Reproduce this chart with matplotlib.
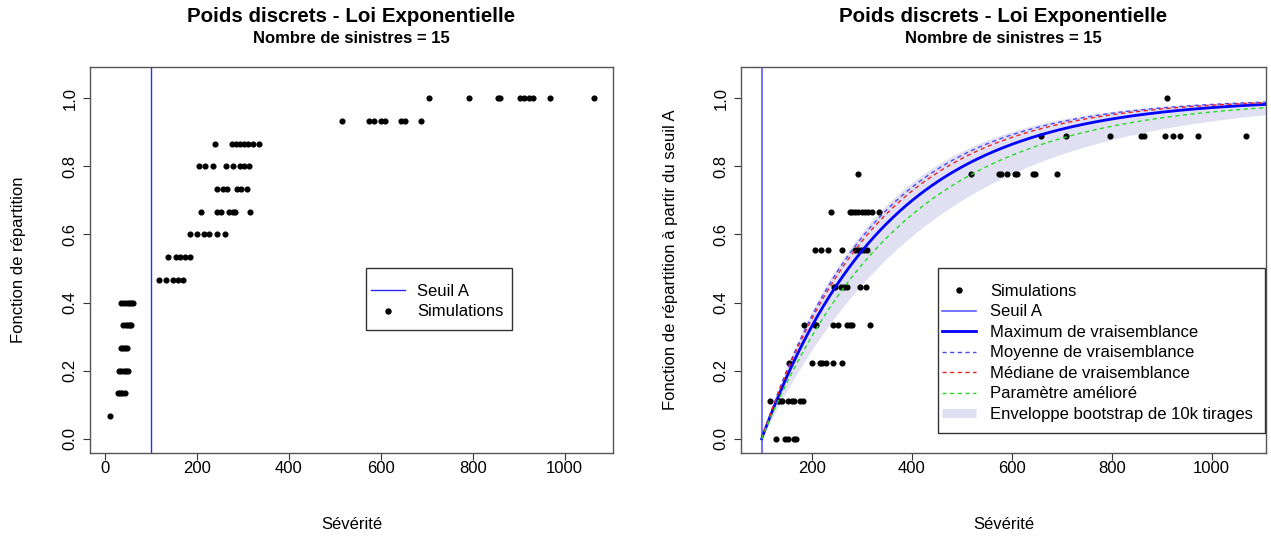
import numpy as np
import matplotlib.pyplot as plt
import matplotlib as mpl
from matplotlib.lines import Line2D
from matplotlib.patches import Rectangle

"""
CONFIG
"""

mpl.rcParams['font.family'] = ['Liberation Sans', 'DejaVu Sans']
mpl.rcParams['font.size'] = 12

SEUIL_A = 100

# panneau gauche : fonction de repartition, une liste de severites par palier k/15
niveaux_gauche = [k / 15 for k in range(1, 16)]
sev_gauche = [
    [10],
    [28, 33, 38, 43],
    [31, 36, 41, 46, 50],
    [34, 39, 44, 49],
    [40, 45, 50, 54, 57],
    [35, 41, 47, 52, 57, 61],
    [117, 133, 149, 159, 169],
    [137, 155, 163, 175, 185],
    [184, 201, 215, 227, 244, 262],
    [208, 244, 253, 269, 278, 283, 315],
    [244, 257, 265, 288, 296, 309],
    [205, 218, 234, 263, 279, 294, 302, 314],
    [239, 276, 285, 293, 302, 311, 321, 334],
    [515, 574, 585, 600, 610, 643, 652, 687],
    [704, 792, 855, 860, 902, 912, 922, 931, 967, 1063],
]

# panneau droit : repartition a partir du seuil A, paliers k/9
niveaux_droite = [k / 9 for k in range(0, 10)]
sev_droite = [
    [129, 147, 153, 164, 169],
    [116, 132, 137, 140, 153, 161, 164, 177, 183],
    [155, 201, 216, 221, 229, 243, 260],
    [185, 207, 209, 243, 252, 271, 276, 280, 316],
    [244, 247, 259, 264, 271, 296, 309],
    [207, 219, 233, 261, 287, 292, 299, 305, 311],
    [239, 276, 281, 287, 293, 300, 307, 312, 320, 335],
    [293, 519, 574, 579, 590, 607, 611, 643, 647, 691],
    [658, 709, 797, 859, 865, 906, 923, 937, 973, 1069],
    [911],
]

# parametres (moyenne des exces) des lois exponentielles ajustees
theta_mv = 250
theta_moyenne = 224
theta_mediane = 231
theta_ameliore = 280
theta_enveloppe = [215, 332]

TITRE = "Poids discrets - Loi Exponentielle"
SOUS_TITRE = "Nombre de sinistres = 15"

W, H = 1271, 539


def style_axes(ax):
    for s in ax.spines.values():
        s.set_color('#555555')
        s.set_linewidth(1.0)
    ax.tick_params(direction='out', length=5, width=0.8, color='#333333',
                   labelsize=12)
    ax.tick_params(axis='x', pad=1)
    ax.tick_params(axis='y', pad=4)
    for lab in ax.get_yticklabels():
        lab.set_rotation(90)
        lab.set_va('center')


def titres(fig, ax):
    b = ax.get_position()
    cx = (b.x0 + b.x1) / 2
    fig.text(cx, 1 - 21.5 / H, TITRE, ha='center', va='baseline',
             fontsize=14.8, fontweight='bold')
    fig.text(cx, 1 - 43 / H, SOUS_TITRE, ha='center', va='baseline',
             fontsize=12, fontweight='bold')
    fig.text(cx, 1 - 529 / H, "Sévérité", ha='center', va='baseline', fontsize=12)


def points(ax, niveaux, sev):
    xs, ys = [], []
    for y, row in zip(niveaux, sev):
        xs += row
        ys += [y] * len(row)
    ax.plot(xs, ys, 'o', color='black', markersize=3.4, linestyle='none')


def cdf(x, theta):
    return 1 - np.exp(-(x - SEUIL_A) / theta)


def legende(fig, ax, handles, labels, cadre, x_poignee, textpad):
    # cadre : (gauche, haut, droite, bas) en pixels de la figure, facon legend() de R
    x0, y0, x1, y1 = cadre
    ax.add_patch(Rectangle((x0 / W, 1 - y1 / H), (x1 - x0) / W, (y1 - y0) / H,
                           transform=fig.transFigure, facecolor='white',
                           edgecolor='#333333', lw=1.0, zorder=4.9, clip_on=False))
    leg = ax.legend(handles, labels, loc='upper left',
                    bbox_to_anchor=(x_poignee / W, 1 - (y0 + 16) / H),
                    bbox_transform=fig.transFigure, frameon=False,
                    fontsize=12, handlelength=2.05, handletextpad=textpad,
                    labelspacing=0.33, borderpad=0, borderaxespad=0)
    leg.set_zorder(5)
    return leg


def panneau_gauche(fig):
    ax = fig.add_axes([90 / W, 1 - 453 / H, 523 / W, 386 / H])
    points(ax, niveaux_gauche, sev_gauche)
    ax.axvline(SEUIL_A, color='#2a2aff', lw=1.0)
    ax.set_xlim(-32.5, 1105)
    ax.set_ylim(-0.042, 1.092)
    ax.set_xticks([0, 200, 400, 600, 800, 1000])
    ax.set_yticks([0, 0.2, 0.4, 0.6, 0.8, 1.0])
    ax.set_yticklabels(["0.0", "0.2", "0.4", "0.6", "0.8", "1.0"])
    style_axes(ax)
    handles = [Line2D([], [], color='#2a2aff', lw=1.0),
               Line2D([], [], marker='o', color='black', markersize=3.6, ls='none')]
    legende(fig, ax, handles, ["Seuil A", "Simulations"], (366, 268, 512, 330),
            371, 0.72)
    fig.text(19 / W, 1 - 260 / H, "Fonction de répartition", rotation=90,
             ha='center', va='center', fontsize=12)
    titres(fig, ax)


def panneau_droit(fig):
    ax = fig.add_axes([741 / W, 1 - 453 / H, 525 / W, 386 / H])
    x = np.linspace(SEUIL_A, 1120, 400)
    ax.fill_between(x, cdf(x, theta_enveloppe[1]), cdf(x, theta_enveloppe[0]),
                    color='#e0e0f2', lw=0)
    points(ax, niveaux_droite, sev_droite)
    ax.axvline(SEUIL_A, color='#5a5aff', lw=1.2)
    ax.plot(x, cdf(x, theta_mv), color='blue', lw=2)
    ax.plot(x, cdf(x, theta_moyenne), color='#4848ff', lw=1, dashes=(3, 2.5))
    ax.plot(x, cdf(x, theta_mediane), color='#ee2020', lw=1, dashes=(3, 2.5))
    ax.plot(x, cdf(x, theta_ameliore), color='#22dd22', lw=1, dashes=(3, 2.5))
    ax.set_xlim(58.6, 1108.6)
    ax.set_ylim(-0.042, 1.092)
    ax.set_xticks([200, 400, 600, 800, 1000])
    ax.set_yticks([0, 0.2, 0.4, 0.6, 0.8, 1.0])
    ax.set_yticklabels(["0.0", "0.2", "0.4", "0.6", "0.8", "1.0"])
    style_axes(ax)
    handles = [Line2D([], [], marker='o', color='black', markersize=3.6, ls='none'),
               Line2D([], [], color='#5a5aff', lw=1.2),
               Line2D([], [], color='blue', lw=2),
               Line2D([], [], color='#4848ff', lw=1, dashes=(3, 2.5)),
               Line2D([], [], color='#ee2020', lw=1, dashes=(3, 2.5)),
               Line2D([], [], color='#22dd22', lw=1, dashes=(3, 2.5)),
               Line2D([], [], color='#e0e0f2', lw=6.5, solid_capstyle='butt')]
    labels = ["Simulations", "Seuil A", "Maximum de vraisemblance",
              "Moyenne de vraisemblance", "Médiane de vraisemblance",
              "Paramètre amélioré", "Enveloppe bootstrap de 10k tirages"]
    legende(fig, ax, handles, labels, (938, 268, 1265, 433), 942, 0.85)
    fig.text(670 / W, 1 - 260 / H, "Fonction de répartition à partir du seuil A",
             rotation=90, ha='center', va='center', fontsize=12)
    titres(fig, ax)


def main():
    fig = plt.figure(figsize=(W / 100, H / 100), dpi=100)
    panneau_gauche(fig)
    panneau_droit(fig)
    fig.savefig("out.png", dpi=100)


main()
